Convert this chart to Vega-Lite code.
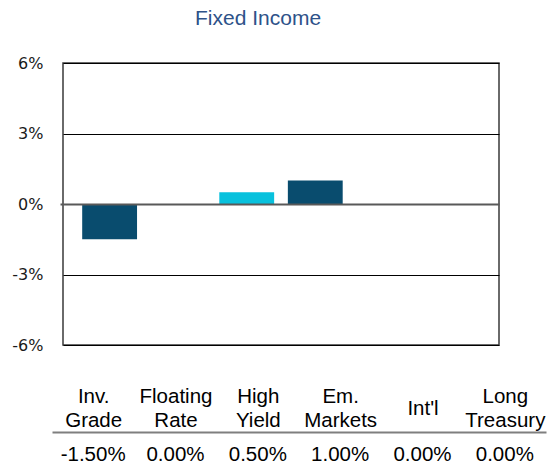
{
  "$schema": "https://vega.github.io/schema/vega-lite/v6.json",
  "padding": {"left": 11, "top": 8, "right": 5, "bottom": 0},
  "config": {
    "locale": {"number": {"decimal": ".", "thousands": ",", "grouping": [3], "currency": ["$", ""], "minus": "-"}},
    "font": "Liberation Sans",
    "view": {"stroke": null}
  },
  "title": {"text": "Fixed Income", "anchor": "middle", "fontSize": 21, "font": "Liberation Sans", "fontWeight": "normal", "color": "#2e5289", "dx": -26, "offset": 25},
  "data": {"values": [
    {"category": "Inv. Grade", "value": -0.015},
    {"category": "Floating Rate", "value": 0.0},
    {"category": "High Yield", "value": 0.005},
    {"category": "Em. Markets", "value": 0.01},
    {"category": "Int'l", "value": 0.0},
    {"category": "Long Treasury", "value": 0.0}
  ]},
  "spacing": 32,
  "vconcat": [
    {
      "width": 436,
      "height": 282,
      "view": {"stroke": "#3a3a3a", "strokeWidth": 1.5},
      "mark": {"type": "bar"},
      "encoding": {
        "x": {"field": "category", "type": "nominal", "sort": null, "scale": {"paddingInner": 0.2, "paddingOuter": 0.28}, "axis": null},
        "y": {"field": "value", "type": "quantitative", "scale": {"domain": [-0.06, 0.06], "nice": false},
          "axis": {"values": [-0.06, -0.03, 0, 0.03, 0.06], "format": ".0%", "title": null, "domain": false, "grid": true,
            "gridColor": {"condition": {"test": "datum.value === 0", "value": "#595959"}, "value": "#000000"},
            "gridWidth": {"condition": {"test": "datum.value === 0", "value": 2}, "value": 1},
            "ticks": true, "tickSize": 3, "tickWidth": 2,
            "tickColor": {"condition": {"test": "datum.value === 0", "value": "#595959"}, "value": "transparent"},
            "labelPadding": 17, "labelFont": "DejaVu Sans", "labelFontSize": 16, "labelColor": "#1a1a1a", "zindex": 1}},
        "color": {"condition": {"test": "datum.category === 'High Yield'", "value": "#08c1dd"}, "value": "#094c6e"}
      }
    },
    {
      "width": 436,
      "height": 25,
      "mark": {"type": "text", "baseline": "top", "fontSize": 20.5, "font": "Liberation Sans", "color": "#000000"},
      "encoding": {
        "x": {"field": "category", "type": "nominal", "sort": null, "scale": {"range": [-11, 483], "paddingInner": 0, "paddingOuter": 0},
          "axis": {"orient": "top", "title": null, "labelExpr": "split(datum.label, ' ')", "labelAngle": 0, "labelFont": "Liberation Sans",
            "labelFontSize": 20.5, "labelColor": "#000000", "labelLineHeight": 24.5, "labelBaseline": "middle",
            "labelPadding": {"condition": {"test": "indexof(datum.label, ' ') < 0", "value": 23.5}, "value": 36},
            "ticks": false, "domain": true, "domainColor": "#7f7f7f", "domainWidth": 2, "grid": false, "labelOverlap": false, "labelLimit": 0}},
        "text": {"field": "value", "type": "quantitative", "format": ".2%"}
      }
    }
  ]
}
